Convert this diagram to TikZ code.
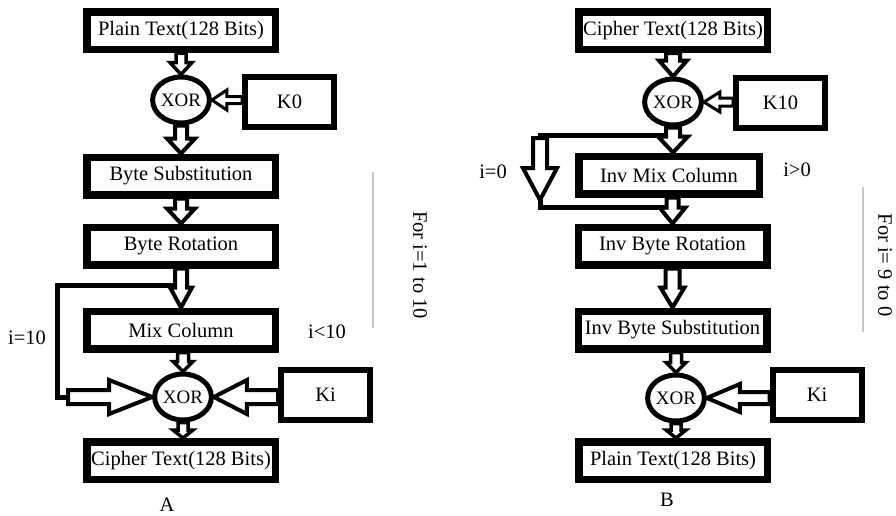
\documentclass[tikz,border=0pt]{standalone}
\usepackage{fontspec}
\setmainfont{Liberation Serif}
\usetikzlibrary{calc,shapes.geometric}
\begin{document}
\begin{tikzpicture}[x=1pt,y=-1pt, font=\fontsize{20.5}{24}\selectfont,
  box/.style={draw, line width=7.5pt, fill=white, minimum width=#1, minimum height=37.5pt, inner sep=0pt},
  box/.default=188.5pt,
  kbox/.style={draw, line width=6pt, fill=white, minimum width=89pt, minimum height=50pt, inner sep=0pt},
  xor/.style={ellipse, draw, line width=5pt, fill=white, minimum width=51pt, minimum height=46pt, inner sep=0pt, font=\fontsize{19}{21}\selectfont},
  ln/.style={line width=5pt},
  lbl/.style={inner sep=0pt},
  sep/.style={line width=1.5pt, draw=black!22},
  hs/.store in=\hs, hw/.store in=\hw, hl/.store in=\hl, hs=6, hw=13, hl=14,
  hollow/.style={draw, fill=white, line width=4pt, line join=miter, miter limit=10,
    to path={
      ($(\tikztostart)!\hs pt!90:(\tikztotarget)$)
      -- ($($(\tikztotarget)!\hl pt!(\tikztostart)$)!\hs pt!90:(\tikztotarget)$)
      -- ($($(\tikztotarget)!\hl pt!(\tikztostart)$)!\hw pt!90:(\tikztotarget)$)
      -- (\tikztotarget)
      -- ($($(\tikztotarget)!\hl pt!(\tikztostart)$)!\hw pt!-90:(\tikztotarget)$)
      -- ($($(\tikztotarget)!\hl pt!(\tikztostart)$)!\hs pt!-90:(\tikztotarget)$)
      -- ($(\tikztostart)!\hs pt!-90:(\tikztotarget)$)
      -- cycle}}
]
\useasboundingbox[fill=white] (0,0) rectangle (896,515);

% ---------- A : encryption ----------
\node[box] (ptA) at (181,30.5) {Plain Text(128 Bits)};
\node[xor] (xA1) at (181,100) {XOR};
\node[kbox] (k0) at (289.5,102) {K0};
\node[box] (bsA) at (181,176) {Byte Substitution};
\node[box] (brA) at (181,246) {Byte Rotation};
\node[box] (mcA) at (181,330) {Mix Column};
\node[xor] (xA2) at (183,397) {XOR};
\node[kbox] (kiA) at (325.5,395) {Ki};
\node[box] (ctA) at (181,460.5) {Cipher Text(128 Bits)};
\node[lbl] (labA) at (167,505) {A};
\node[lbl] (i10) at (27,338) {i=10};
\node[lbl] (ilt10) at (327,332) {i<10};
\node[lbl, rotate=-90] (forA) at (420,265) {For i=1 to 10};
\coordinate (sA1) at (373,172);
\coordinate (sA2) at (373,328);
\draw[sep] (sA1) -- (sA2);

% loop i=10
\coordinate (jA) at (181,285);
\coordinate (cA1) at (57,285);
\coordinate (cA2) at (57,397);
\coordinate (eA) at (80,397);
\coordinate (aA) at (68,397);
\draw[ln] (jA) -- (cA1) -- (cA2) -- (eA);

% ---------- B : decryption ----------
\node[box] (ctB) at (673,30.5) {Cipher Text(128 Bits)};
\node[xor] (xB1) at (673,102) {XOR};
\node[kbox] (k10) at (780.5,102.5) {K10};
\node[box=180.5pt] (imB) at (669,175) {Inv Mix Column};
\node[box] (ibrB) at (672.5,246) {Inv Byte Rotation};
\node[box] (ibsB) at (672.5,330) {Inv Byte Substitution};
\node[xor] (xB2) at (676,398) {XOR};
\node[kbox] (kiB) at (817,395) {Ki};
\node[box] (ptB) at (673,460.5) {Plain Text(128 Bits)};
\node[lbl] (labB) at (667,500) {B};
\node[lbl] (i0) at (493,172) {i=0};
\node[lbl] (igt0) at (797,170) {i>0};
\node[lbl, rotate=-90] (forB) at (885,265) {For i= 9 to 0};
\coordinate (sB1) at (863,187);
\coordinate (sB2) at (863,332);
\draw[sep] (sB1) -- (sB2);

% bypass i=0
\coordinate (jB1) at (673,135);
\coordinate (cB1) at (540,135);
\coordinate (cB2) at (540,207);
\coordinate (jB2) at (673,207);
\draw[ln] (jB1) -- (cB1) -- (cB2) -- (jB2);
\coordinate (bS) at (540,138);
\coordinate (bE) at (540,200);

% ---------- hollow arrows A ----------
\path[hollow, line width=3.5pt, hs=5, hw=11, hl=12] (ptA.south) to (xA1.north);
\path[hollow, hs=6, hw=14, hl=15] (xA1.south) to (bsA.north);
\path[hollow, hs=6, hw=14, hl=15] (bsA.south) to (brA.north);
\path[hollow, hs=6, hw=11, hl=20] (brA.south) to (mcA.north);
\path[hollow, line width=3.5pt, hs=5.5, hw=10, hl=10] (xA2.north |- mcA.south) to (xA2.north);
\path[hollow, line width=3.5pt, hs=5, hw=10, hl=8] (xA2.south) to (xA2.south |- ctA.north);
\path[hollow, line width=3pt, hs=3.5, hw=10, hl=15] (k0.west |- xA1.east) to (xA1.east);
\path[hollow, hs=7, hw=17, hl=33] (kiA.west |- xA2.east) to (xA2.east);
\path[hollow, hs=7, hw=17, hl=43] (aA) to (xA2.west);

% ---------- hollow arrows B ----------
\path[hollow, hs=7, hw=14, hl=16] (ctB.south) to (xB1.north);
\path[hollow, hs=7, hw=15, hl=16] (xB1.south) to (xB1.south |- imB.north);
\path[hollow, hs=6, hw=13, hl=16] (ibrB.north |- imB.south) to (ibrB.north);
\path[hollow, hs=7, hw=12, hl=20] (ibrB.south) to (ibrB.south |- ibsB.north);
\path[hollow, line width=3.5pt, hs=5.5, hw=10, hl=10] (xB2.north |- ibsB.south) to (xB2.north);
\path[hollow, line width=3.5pt, hs=5, hw=10, hl=8] (xB2.south) to (xB2.south |- ptB.north);
\path[hollow, line width=3pt, hs=4, hw=10, hl=16] (k10.west |- xB1.east) to (xB1.east);
\path[hollow, hs=6, hw=14, hl=33] (kiB.west |- xB2.east) to (xB2.east);
\path[hollow, hs=7, hw=17, hl=32] (bS) to (bE);
\end{tikzpicture}
\end{document}
